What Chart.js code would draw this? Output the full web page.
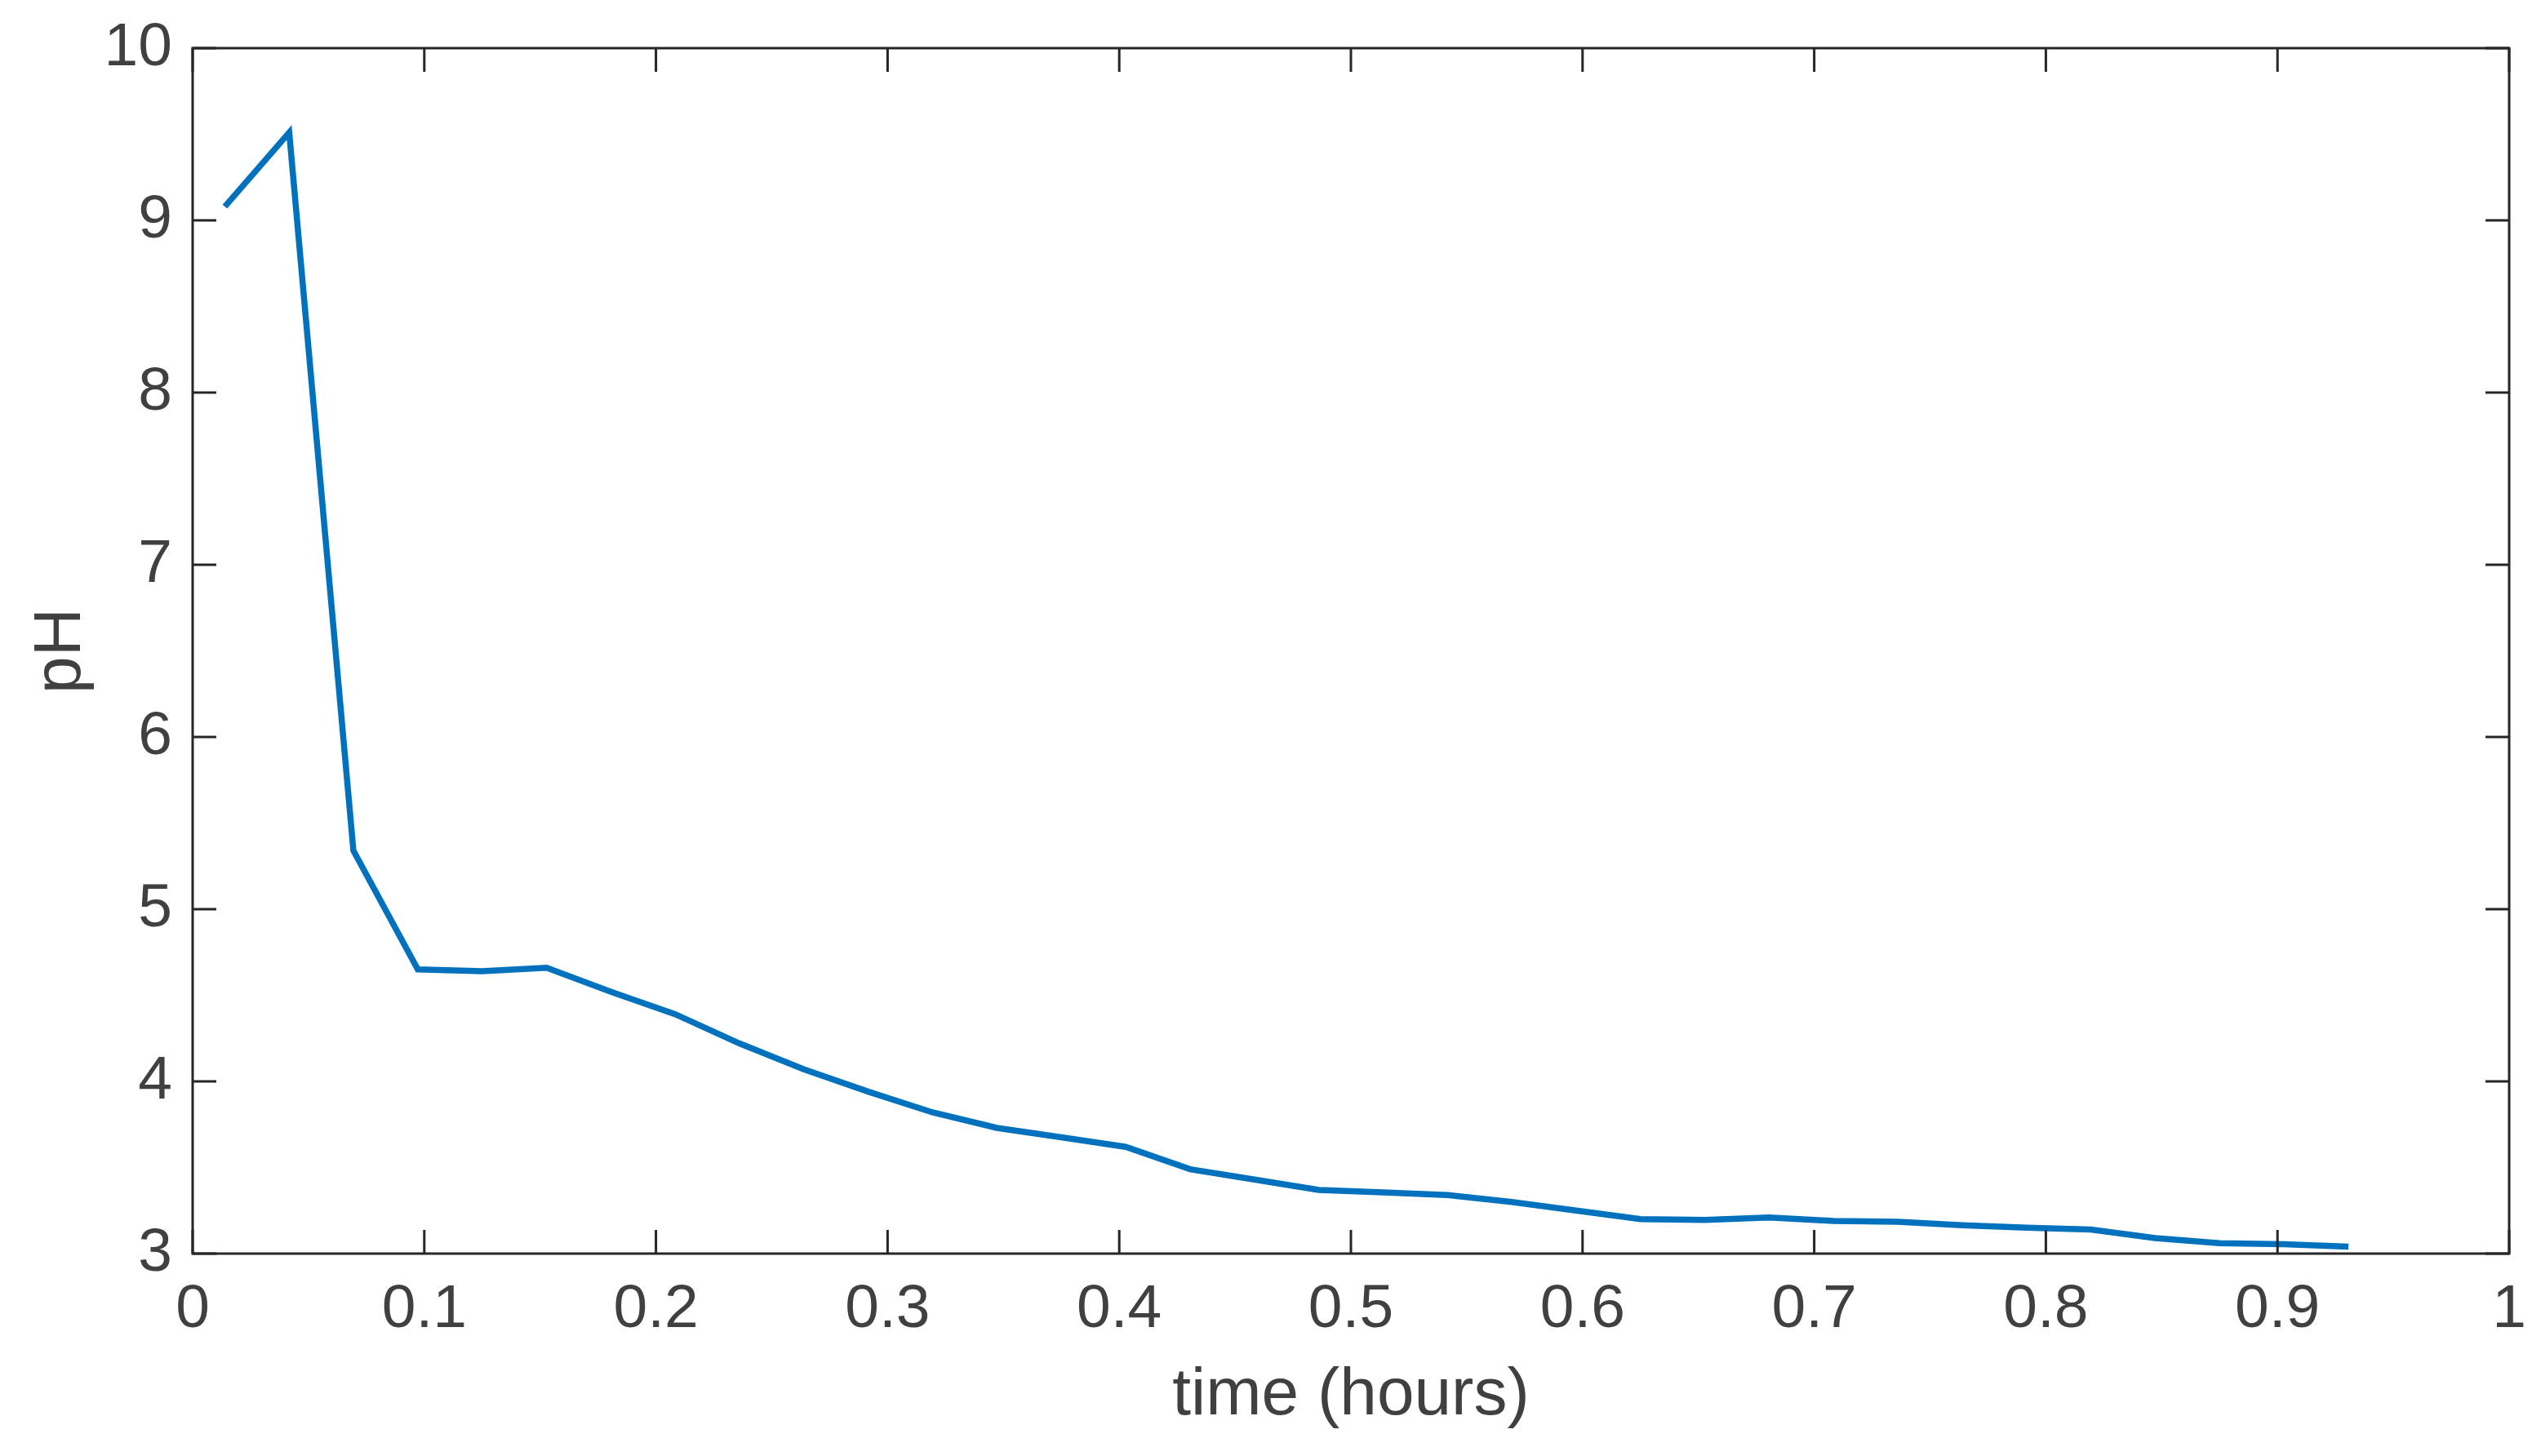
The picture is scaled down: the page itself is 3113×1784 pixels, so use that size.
<!DOCTYPE html>
<html>
<head>
<meta charset="utf-8">
<script src="https://cdn.jsdelivr.net/npm/chart.js@4.4.1/dist/chart.umd.min.js"></script>
<style>
    html, body { margin: 0; padding: 0; background: #ffffff; }
    #wrap { width: 3113px; height: 1784px; }
</style>
</head>
<body>
<div id="wrap"><canvas id="phChart" width="3113" height="1784"></canvas></div>
<script>
// время замеров, часы
const timeHours = [0.0139, 0.0417, 0.0694, 0.0972, 0.125, 0.1528, 0.1806, 0.2083, 0.2361, 0.2639,
    0.2917, 0.3194, 0.3472, 0.375, 0.4028, 0.4306, 0.4583, 0.4861, 0.5139, 0.5417,
    0.5694, 0.5972, 0.625, 0.6528, 0.6806, 0.7083, 0.7361, 0.7639, 0.7917, 0.8194,
    0.8472, 0.875, 0.9028, 0.9306];
// значения pH
const phValues = [9.08, 9.51, 5.34, 4.65, 4.64, 4.66, 4.52, 4.39, 4.22, 4.07,
    3.94, 3.82, 3.73, 3.675, 3.62, 3.49, 3.43, 3.37, 3.355, 3.34,
    3.30, 3.25, 3.20, 3.195, 3.21, 3.19, 3.185, 3.165, 3.15, 3.14,
    3.09, 3.06, 3.055, 3.04];

const xTickLabels = ['0', '0.1', '0.2', '0.3', '0.4', '0.5', '0.6', '0.7', '0.8', '0.9', '1'];
const yTickLabels = ['3', '4', '5', '6', '7', '8', '9', '10'];

const FONT = '"Liberation Sans", Arial, Helvetica, sans-serif';
const AXIS_COLOR = '#262626';
const TEXT_COLOR = '#404040';

// рамка и внутренние риски как в matlab
const boxPlugin = {
    id: 'boxPlugin',
    afterDraw(chart) {
        const {ctx, chartArea: a, scales} = chart;
        const tick = 29;
        ctx.save();
        ctx.strokeStyle = AXIS_COLOR;
        ctx.lineWidth = 3;
        ctx.lineCap = 'butt';
        ctx.beginPath();
        scales.x.ticks.forEach((t) => {
            const px = scales.x.getPixelForValue(t.value);
            ctx.moveTo(px, a.bottom);
            ctx.lineTo(px, a.bottom - tick);
            ctx.moveTo(px, a.top);
            ctx.lineTo(px, a.top + tick);
        });
        scales.y.ticks.forEach((t) => {
            const py = scales.y.getPixelForValue(t.value);
            ctx.moveTo(a.left, py);
            ctx.lineTo(a.left + tick, py);
            ctx.moveTo(a.right, py);
            ctx.lineTo(a.right - tick, py);
        });
        ctx.stroke();
        ctx.strokeRect(a.left, a.top, a.right - a.left, a.bottom - a.top);
        ctx.restore();
    }
};

new Chart(document.getElementById('phChart'), {
    type: 'line',
    data: {
        datasets: [{
            data: timeHours.map((t, i) => ({x: t, y: phValues[i]})),
            borderColor: '#0072BD',
            borderWidth: 7.5,
            borderJoinStyle: 'miter',
            pointRadius: 0,
            tension: 0,
            fill: false,
        }],
    },
    options: {
        responsive: false,
        animation: false,
        devicePixelRatio: 1,
        layout: {padding: {top: 59, right: 39, left: 0, bottom: 0}},
        plugins: {legend: {display: false}, tooltip: {enabled: false}},
        scales: {
            x: {
                type: 'linear',
                min: 0,
                max: 1,
                afterFit: (s) => {
                    s.height = 248;
                    s.paddingLeft = 0;
                    s.paddingRight = 0;
                },
                grid: {display: false, drawTicks: false},
                border: {display: false},
                ticks: {
                    stepSize: 0.1,
                    padding: 24,
                    maxRotation: 0,
                    autoSkip: false,
                    color: TEXT_COLOR,
                    font: {family: FONT, size: 75},
                    callback: (v, i) => xTickLabels[i],
                },
                title: {
                    display: true,
                    text: 'time (hours)',
                    color: TEXT_COLOR,
                    font: {family: FONT, size: 82},
                    padding: {top: 0, bottom: 24},
                },
            },
            y: {
                min: 3,
                max: 10,
                afterFit: (s) => {
                    s.width = 236;
                    s.paddingTop = 0;
                    s.paddingBottom = 0;
                },
                grid: {display: false, drawTicks: false},
                border: {display: false},
                ticks: {
                    stepSize: 1,
                    padding: 25,
                    autoSkip: false,
                    color: TEXT_COLOR,
                    font: {family: FONT, size: 75},
                    callback: (v, i) => yTickLabels[i],
                },
                title: {
                    display: true,
                    text: 'pH',
                    color: TEXT_COLOR,
                    font: {family: FONT, size: 82},
                    padding: {top: 26, bottom: 0},
                },
            },
        },
    },
    plugins: [boxPlugin],
});
</script>
</body>
</html>
